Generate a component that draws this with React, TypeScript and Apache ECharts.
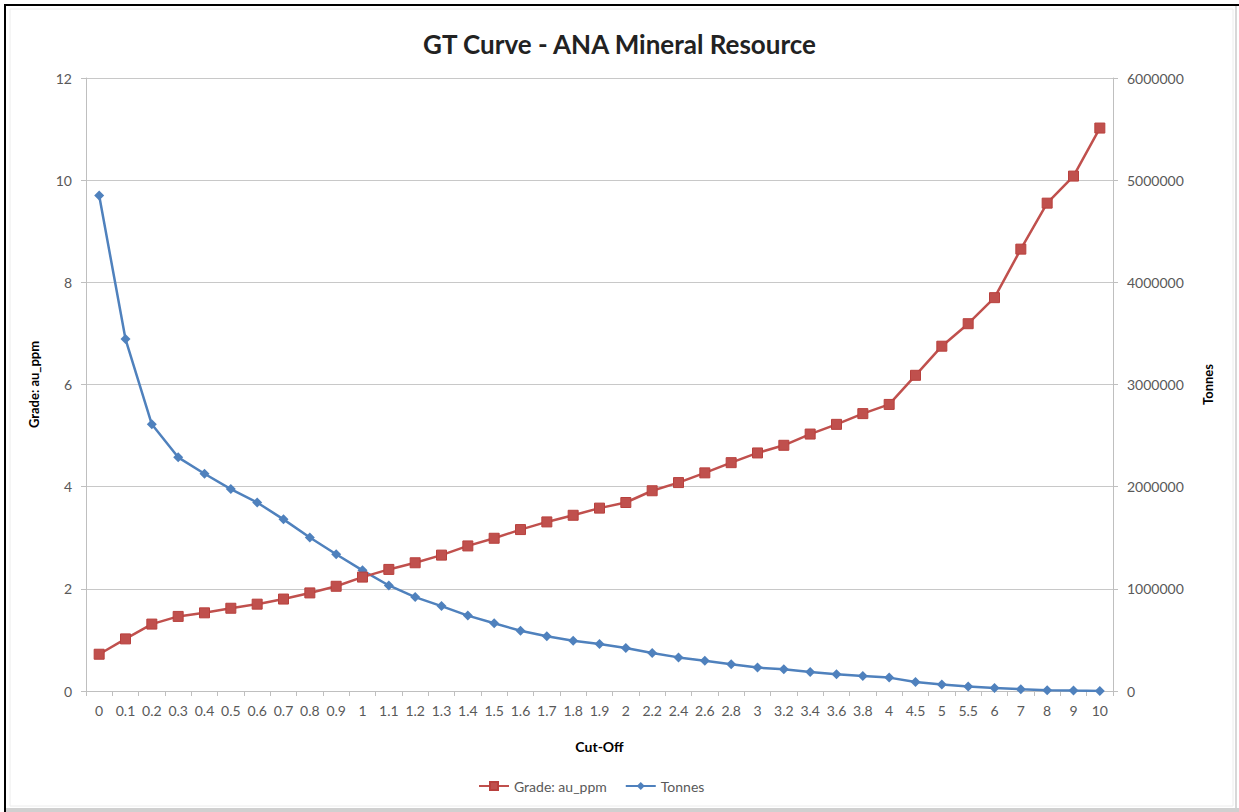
import React, { useEffect, useRef } from "react";
import * as echarts from "echarts";

const cutOff = ["0","0.1","0.2","0.3","0.4","0.5","0.6","0.7","0.8","0.9","1","1.1","1.2","1.3","1.4","1.5","1.6","1.7","1.8","1.9","2","2.2","2.4","2.6","2.8","3","3.2","3.4","3.6","3.8","4","4.5","5","5.5","6","7","8","9","10"];

const grade = [0.72,1.02,1.31,1.46,1.53,1.62,1.70,1.80,1.92,2.05,2.23,2.38,2.51,2.66,2.84,2.99,3.16,3.31,3.44,3.58,3.69,3.92,4.08,4.27,4.47,4.66,4.81,5.03,5.22,5.43,5.61,6.18,6.75,7.19,7.70,8.65,9.55,10.08,11.02];

const tonnes = [4850000,3445000,2610000,2287000,2126000,1976000,1845000,1680000,1503000,1339000,1181000,1033000,919000,831000,738000,663000,590000,535000,492000,460000,420000,371000,329000,295000,262000,229000,212000,186000,163000,147000,131000,88000,63000,43000,30000,17000,8000,4000,1000];

const FONT = "Lato, 'Open Sans', sans-serif";

export default function App() {
  const ref = useRef<HTMLDivElement>(null);
  useEffect(() => {
    if (!ref.current) return;
    const chart = echarts.init(ref.current, undefined, { renderer: "svg" });
    const axisLabel = { color: "#595959", fontSize: 14, fontFamily: FONT };
    const nameStyle = { color: "#000", fontSize: 13, fontWeight: "bold" as const, fontFamily: FONT };
    chart.setOption({
      animation: false,
      backgroundColor: "#fff",
      textStyle: { fontFamily: FONT },
      title: {
        text: "GT Curve - ANA Mineral Resource",
        left: "center",
        top: 26,
        textStyle: { fontSize: 26, fontWeight: "bold", color: "#222", fontFamily: FONT },
      },
      legend: {
        left: 473,
        top: 774,
        itemWidth: 30,
        itemHeight: 10,
        itemGap: 18,
        textStyle: { color: "#595959", fontSize: 14, fontFamily: FONT },
        data: ["Grade: au_ppm", "Tonnes"],
      },
      grid: { left: 86, right: 126, top: 78, bottom: 121 },
      xAxis: {
        type: "category",
        data: cutOff,
        boundaryGap: true,
        name: "Cut-Off",
        nameLocation: "middle",
        nameGap: 48,
        nameTextStyle: { ...nameStyle, fontSize: 14 },
        axisLine: { lineStyle: { color: "#bfbfbf", width: 1 } },
        axisTick: { show: true, alignWithLabel: false, length: 5, lineStyle: { color: "#bfbfbf" } },
        axisLabel: { ...axisLabel, interval: 0, margin: 12 },
      },
      yAxis: [
        {
          type: "value",
          min: 0,
          max: 12,
          interval: 2,
          name: "Grade: au_ppm",
          nameLocation: "middle",
          nameRotate: 90,
          nameGap: 46,
          nameTextStyle: nameStyle,
          axisLine: { show: true, lineStyle: { color: "#bfbfbf" } },
          axisTick: { show: true, length: 5, lineStyle: { color: "#bfbfbf" } },
          axisLabel: { ...axisLabel, margin: 14 },
          splitLine: { lineStyle: { color: "#c8c8c8", width: 1 } },
        },
        {
          type: "value",
          min: 0,
          max: 6000000,
          interval: 1000000,
          name: "Tonnes",
          nameLocation: "middle",
          nameRotate: 90,
          nameGap: 88,
          nameTextStyle: nameStyle,
          axisLine: { show: true, lineStyle: { color: "#bfbfbf" } },
          axisTick: { show: true, length: 5, lineStyle: { color: "#bfbfbf" } },
          axisLabel: { ...axisLabel, margin: 14, formatter: (v: number) => String(v) },
          splitLine: { show: false },
        },
      ],
      series: [
        {
          name: "Grade: au_ppm",
          type: "line",
          yAxisIndex: 0,
          data: grade,
          symbol: "rect",
          symbolSize: 10,
          lineStyle: { color: "#C0504D", width: 2.5 },
          itemStyle: { color: "#C0504D", borderColor: "#B8403D", borderWidth: 1 },
          z: 3,
        },
        {
          name: "Tonnes",
          type: "line",
          yAxisIndex: 1,
          data: tonnes,
          symbol: "diamond",
          symbolSize: 10,
          lineStyle: { color: "#4F81BD", width: 2.5 },
          itemStyle: { color: "#4F81BD" },
          z: 2,
        },
      ],
      graphic: [
        { type: "rect", shape: { x: 4, y: 4, width: 1235, height: 2 }, style: { fill: "#000" }, silent: true },
        { type: "rect", shape: { x: 4, y: 4, width: 2, height: 808 }, style: { fill: "#000" }, silent: true },
        { type: "rect", shape: { x: 6, y: 808, width: 1233, height: 4 }, style: { fill: "#d0d0d0" }, silent: true },
        { type: "rect", shape: { x: 1235, y: 6, width: 2, height: 802 }, style: { fill: "#d8d8d8" }, silent: true },
        { type: "rect", shape: { x: 10, y: 9, width: 1223, height: 797 }, style: { fill: "none", stroke: "#ececec", lineWidth: 1 }, silent: true },
      ],
    });
    return () => chart.dispose();
  }, []);
  return (
    <div
      ref={ref}
      style={{ position: "fixed", left: 0, top: 0, width: 1239, height: 812, background: "#fff" }}
    />
  );
}
